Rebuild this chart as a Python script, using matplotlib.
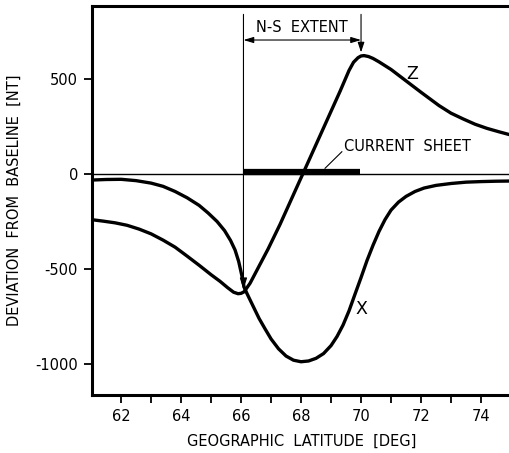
import matplotlib

matplotlib.use("Agg")
import matplotlib.pyplot as plt
from matplotlib.ticker import MultipleLocator

plt.rcParams["font.family"] = ["DejaVu Sans"]
plt.rcParams["axes.unicode_minus"] = False

# Z component (vertical)
z_lat = [61.0, 61.4, 61.8, 62.2, 62.6, 63.0, 63.4, 63.8, 64.2, 64.6, 65.0, 65.3,
         65.55, 65.75, 65.9, 66.0, 66.1, 66.3, 66.5, 66.7, 66.9, 67.1, 67.3,
         67.5, 67.7, 67.9, 68.1, 68.3, 68.5, 68.7, 68.9, 69.1, 69.3, 69.45,
         69.6, 69.75, 69.9, 70.0, 70.1, 70.25, 70.4, 70.6, 70.8, 71.0, 71.25,
         71.5, 71.75, 72.0, 72.3, 72.6, 73.0, 73.4, 73.8, 74.2, 74.6, 75.0]
z_val = [-240, -248, -257, -270, -290, -315, -348, -385, -432, -480, -530, -565,
         -598, -622, -630, -628, -620, -575, -515, -455, -395, -330, -265,
         -195, -125, -55, 15, 85, 155, 225, 295, 365, 435, 490,
         545, 588, 612, 621, 623, 618, 608, 590, 570, 550, 520,
         490, 460, 430, 395, 360, 320, 290, 262, 240, 222, 205]

# X component (horizontal)
x_lat = [61.0, 61.5, 62.0, 62.5, 63.0, 63.4, 63.8, 64.2, 64.6, 64.9, 65.2, 65.45,
         65.65, 65.8, 65.92, 66.02, 66.1, 66.2, 66.4, 66.6, 66.8, 67.0, 67.25,
         67.5, 67.75, 68.0, 68.25, 68.5, 68.75, 69.0, 69.2, 69.4, 69.6, 69.8,
         70.0, 70.2, 70.4, 70.6, 70.8, 71.0, 71.25, 71.5, 71.8, 72.1, 72.5,
         73.0, 73.5, 74.0, 74.5, 75.0]
x_val = [-32, -29, -28, -35, -48, -65, -92, -125, -165, -205, -250, -298,
         -350, -400, -460, -530, -595, -630, -695, -760, -815, -868, -920,
         -958, -980, -988, -984, -970, -945, -903, -855, -795, -720, -632,
         -545, -455, -375, -302, -240, -190, -148, -118, -92, -74, -60,
         -50, -43, -40, -38, -37]

sheet_start, sheet_end = 66.08, 69.97
ns_south, ns_north = 66.08, 70.0

fig = plt.figure(figsize=(5.09, 4.53), dpi=100)
ax = fig.add_axes([92 / 509, 58 / 453, 419 / 509, 389 / 453])

ax.plot(z_lat, z_val, color="black", lw=2.4, solid_joinstyle="round")
ax.plot(x_lat, x_val, color="black", lw=2.4, solid_joinstyle="round")

# zero line and current sheet bar
ax.axhline(0, color="black", lw=1.0)
ax.plot([sheet_start, sheet_end], [10, 10], color="black", lw=4.5, solid_capstyle="butt")

# N-S extent markers
ax.annotate("", xy=(ns_south, -608), xytext=(ns_south, 840),
            arrowprops=dict(arrowstyle="-|>,head_length=0.7,head_width=0.22",
                            lw=0.8, color="black", shrinkA=0, shrinkB=0))
ax.annotate("", xy=(ns_north, 640), xytext=(ns_north, 840),
            arrowprops=dict(arrowstyle="-|>,head_length=0.6,head_width=0.2",
                            lw=0.8, color="black", shrinkA=0, shrinkB=0))
ax.annotate("", xy=(ns_south, 705), xytext=(ns_north, 705),
            arrowprops=dict(arrowstyle="<|-|>,head_length=0.6,head_width=0.18",
                            lw=0.8, color="black", shrinkA=0, shrinkB=0))
ax.text((ns_south + ns_north) / 2, 745, "N-S  EXTENT", ha="center", va="baseline",
        fontsize=10.5)

ax.plot([68.8, 69.36], [30, 117], color="black", lw=0.8)
ax.text(69.43, 121, "CURRENT  SHEET", ha="left", va="baseline", fontsize=10.5)

ax.text(71.71, 526, "Z", ha="center", va="center", fontsize=12.5)
ax.text(70.0, -708, "X", ha="center", va="center", fontsize=12.5)

ax.set_xlim(61.03, 75.0)
ax.set_ylim(-1163, 884)
ax.xaxis.set_major_locator(MultipleLocator(2))
ax.xaxis.set_minor_locator(MultipleLocator(1))
ax.set_yticks([-1000, -500, 0, 500])

ax.tick_params(axis="both", which="both", direction="out", length=6, width=1.3,
               labelsize=10.5, pad=4)
ax.spines["right"].set_visible(False)
for side in ("left", "top", "bottom"):
    ax.spines[side].set_linewidth(2.2)

ax.set_xlabel("GEOGRAPHIC  LATITUDE  [DEG]", fontsize=10.5, labelpad=7)
ax.set_ylabel("DEVIATION  FROM  BASELINE  [NT]", fontsize=10.5, labelpad=10)

fig.savefig("out.png", dpi=100)
